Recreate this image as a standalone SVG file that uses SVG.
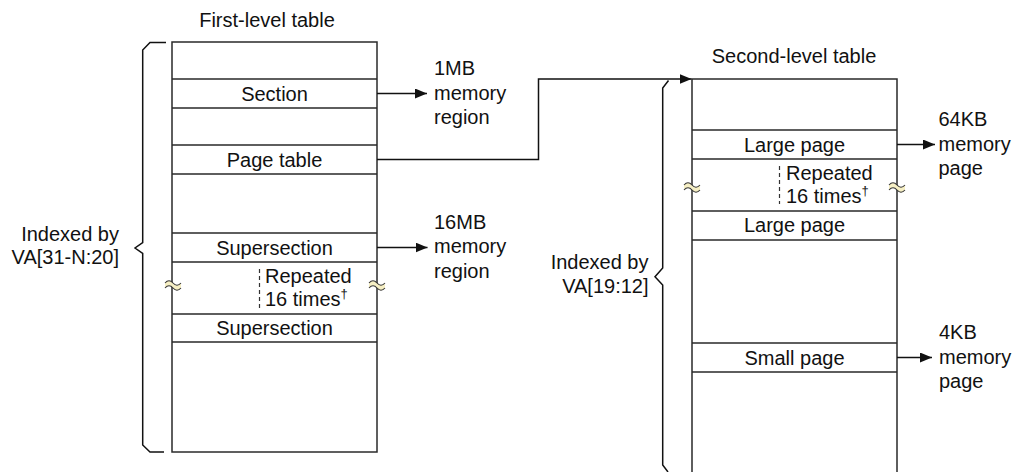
<svg xmlns="http://www.w3.org/2000/svg" xmlns:xlink="http://www.w3.org/1999/xlink" width="1014" height="472" viewBox="0 0 1014 472">
  <style>
    text { font-family: "Liberation Sans", Arial, sans-serif; font-size: 20px; fill: #111; }
    .mid { text-anchor: middle; }
    .end { text-anchor: end; }
    .sup { font-size: 13px; }
    .tbl { fill: #fff; stroke: #2a2a2a; stroke-width: 1.5; }
    .row { stroke: #2a2a2a; stroke-width: 1.5; fill: none; }
    .brace { stroke: #111; stroke-width: 1.5; fill: none; }
    .dash { stroke: #333; stroke-width: 1.2; stroke-dasharray: 4 3; }
    .wire { stroke: #111; stroke-width: 1.5; fill: none; }
    .brk-fill { fill: #f6efc4; stroke: none; }
    .brk-line { fill: none; stroke: #333; stroke-width: 1.1; }
  </style>
  <defs>
    <marker id="arrow" markerUnits="userSpaceOnUse" markerWidth="12" markerHeight="10" refX="12" refY="5" orient="auto">
      <path d="M0,0 L12,5 L0,10 z" fill="#111"/>
    </marker>
    <!-- break mark: two wavy strokes with a light fill between them -->
    <g id="break">
      <path class="brk-fill" d="M-8,-2 q4,-4.5 8,0 t8,0 l0,5 q-4,4.5 -8,0 t-8,0 z"/>
      <path class="brk-line" d="M-8,-2 q4,-4.5 8,0 t8,0"/>
      <path class="brk-line" d="M-8,3 q4,-4.5 8,0 t8,0"/>
    </g>
  </defs>

  <!-- First-level table -->
  <g id="first-level-table">
    <text class="mid" x="267" y="27">First-level table</text>
    <rect class="tbl" x="172" y="42" width="205" height="410"/>
    <path class="row" d="M172,79 H377 M172,108 H377 M172,145 H377 M172,174 H377 M172,233 H377 M172,262 H377 M172,314 H377 M172,342 H377"/>
  </g>

  <g id="entry-section">
    <text class="mid" x="274.5" y="100.5">Section</text>
  </g>
  <g id="entry-page-table">
    <text class="mid" x="274.5" y="166.5">Page table</text>
  </g>
  <g id="entry-supersection-1">
    <text class="mid" x="274.5" y="254.5">Supersection</text>
  </g>
  <g id="repeat-1">
    <line class="dash" x1="259.5" y1="269" x2="259.5" y2="310"/>
    <text x="265" y="283">Repeated</text>
    <text x="265" y="306">16 times<tspan class="sup" dy="-8">†</tspan></text>
    <use xlink:href="#break" x="173" y="285"/>
    <use xlink:href="#break" x="377" y="285"/>
  </g>
  <g id="entry-supersection-2">
    <text class="mid" x="274.5" y="335">Supersection</text>
  </g>

  <g id="brace-1">
    <path class="brace" d="M166,42.5 H150 L142.7,50 V242.5 L135,248 L142.7,253.5 V445 L150,452 H164"/>
    <text class="end" x="119" y="241">Indexed by</text>
    <text class="end" x="119" y="264">VA[31-N:20]</text>
  </g>

  <g id="target-1mb">
    <text x="434" y="75">1MB</text>
    <text x="434" y="99.5">memory</text>
    <text x="434" y="124">region</text>
  </g>
  <g id="target-16mb">
    <text x="434" y="228.5">16MB</text>
    <text x="434" y="253">memory</text>
    <text x="434" y="277.5">region</text>
  </g>

  <!-- Second-level table -->
  <g id="second-level-table">
    <text class="mid" x="794" y="63">Second-level table</text>
    <path class="tbl" d="M692,490 V79 H897 V490"/>
    <path class="row" d="M692,130 H897 M692,159 H897 M692,211 H897 M692,240 H897 M692,343 H897 M692,372 H897"/>
  </g>

  <g id="entry-large-page-1">
    <text class="mid" x="794.5" y="151.5">Large page</text>
  </g>
  <g id="repeat-2">
    <line class="dash" x1="779.5" y1="166" x2="779.5" y2="204"/>
    <text x="786" y="179.5">Repeated</text>
    <text x="786" y="203">16 times<tspan class="sup" dy="-8">†</tspan></text>
    <use xlink:href="#break" x="692" y="187"/>
    <use xlink:href="#break" x="897" y="187"/>
  </g>
  <g id="entry-large-page-2">
    <text class="mid" x="794.5" y="232">Large page</text>
  </g>
  <g id="entry-small-page">
    <text class="mid" x="794.5" y="364.5">Small page</text>
  </g>

  <g id="brace-2">
    <path class="brace" d="M668.5,80.5 L662.7,88 V268 L655,276.7 L662.7,285 V465 L668,472"/>
    <text class="end" x="648.5" y="269">Indexed by</text>
    <text class="end" x="648.5" y="293">VA[19:12]</text>
  </g>

  <g id="target-64kb">
    <text x="938.5" y="126">64KB</text>
    <text x="938.5" y="150.5">memory</text>
    <text x="938.5" y="175">page</text>
  </g>
  <g id="target-4kb">
    <text x="939" y="339">4KB</text>
    <text x="939" y="363.5">memory</text>
    <text x="939" y="388">page</text>
  </g>

  <!-- Connectors -->
  <g id="connectors">
    <line class="wire" x1="377" y1="93.5" x2="427" y2="93.5" marker-end="url(#arrow)"/>
    <line class="wire" x1="377" y1="247.5" x2="427.5" y2="247.5" marker-end="url(#arrow)"/>
    <path class="wire" d="M377,159.5 H538.5 V79 H691.5" marker-end="url(#arrow)"/>
    <line class="wire" x1="897" y1="144.5" x2="935" y2="144.5" marker-end="url(#arrow)"/>
    <line class="wire" x1="897" y1="357.5" x2="932" y2="357.5" marker-end="url(#arrow)"/>
  </g>
</svg>
